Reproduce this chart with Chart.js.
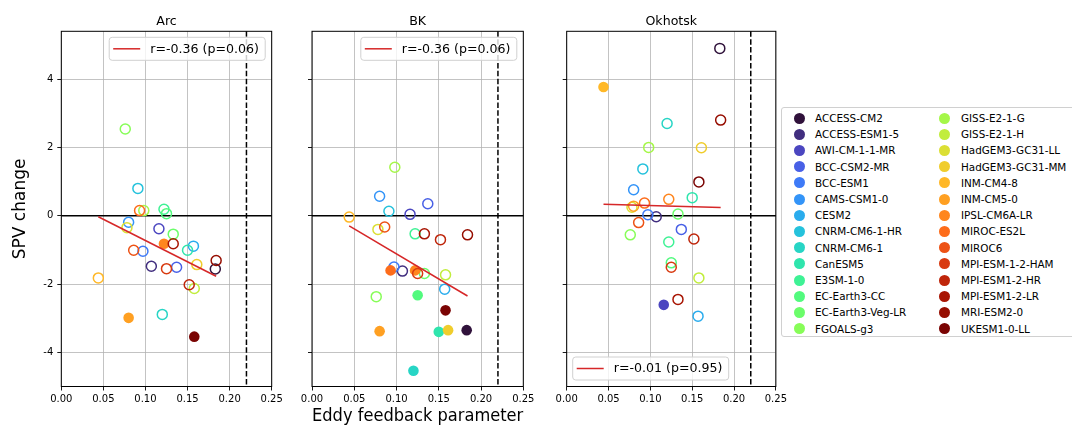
<!DOCTYPE html>
<html>
<head>
<meta charset="utf-8">
<script src="https://cdn.jsdelivr.net/npm/chart.js@4.4.0/dist/chart.umd.min.js"></script>
<style>
  body { margin: 0; background: #fff; width: 1072px; height: 427px; overflow: hidden; position: relative; font-family: "DejaVu Sans", sans-serif; }
  canvas { position: absolute; top: 0; }
  #legend { position: absolute; left: 781px; top: 107px; width: 300px; height: 228px; border: 1px solid #d0d0d0; border-radius: 3px; background: #fff; }
  .item { position: absolute; font-size: 10.4px; color: #000; white-space: nowrap; line-height: 12px; }
  .dot { position: absolute; width: 11px; height: 11px; border-radius: 50%; }
</style>
</head>
<body>
<canvas id="panel-arc" width="290" height="427" style="left:0px"></canvas>
<canvas id="panel-bk" width="250" height="427" style="left:290px"></canvas>
<canvas id="panel-okh" width="250" height="427" style="left:540px"></canvas>
<div id="legend"></div>
<script>
// CMIP6 models, in legend order
const MODELS = [
  'ACCESS-CM2', 'ACCESS-ESM1-5', 'AWI-CM-1-1-MR', 'BCC-CSM2-MR', 'BCC-ESM1', 'CAMS-CSM1-0', 'CESM2',
  'CNRM-CM6-1-HR', 'CNRM-CM6-1', 'CanESM5', 'E3SM-1-0', 'EC-Earth3-CC', 'EC-Earth3-Veg-LR', 'FGOALS-g3',
  'GISS-E2-1-G', 'GISS-E2-1-H', 'HadGEM3-GC31-LL', 'HadGEM3-GC31-MM', 'INM-CM4-8', 'INM-CM5-0', 'IPSL-CM6A-LR',
  'MIROC-ES2L', 'MIROC6', 'MPI-ESM-1-2-HAM', 'MPI-ESM1-2-HR', 'MPI-ESM1-2-LR', 'MRI-ESM2-0', 'UKESM1-0-LL'
];

// eddy feedback parameter per model (x)
const EDDY_FEEDBACK = [
  0.183, 0.107, 0.116, 0.137, 0.097, 0.080, 0.157,
  0.091, 0.120, 0.150, 0.122, 0.125, 0.133, 0.076,
  0.098, 0.158, 0.078, 0.161, 0.044, 0.080, 0.122,
  0.093, 0.086, 0.125, 0.152, 0.133, 0.184, 0.158
];

// SPV change per region (y)
const SPV_ARC = [
  -1.56, -1.48, -0.38, -1.51, -1.04, -0.19, -0.89,
  0.80, -2.89, -1.01, 0.19, 0.06, -0.54, 2.54,
  0.15, -2.13, -0.35, -1.43, -1.82, -2.99, -0.82,
  0.15, -1.01, -1.55, -2.02, -0.82, -1.31, -3.54
];
const SPV_BK = [
  -3.35, -1.62, 0.04, 0.35, -1.50, 0.57, -2.15,
  0.13, -4.54, -3.40, -0.53, -2.33, -1.69, -2.37,
  1.42, -1.73, -0.40, -3.35, -0.04, -3.38, -1.60,
  -1.60, -0.33, -1.69, -0.70, -0.53, -0.56, -2.77
];
const SPV_OKH = [
  4.90, -0.03, -2.61, -0.40, 0.03, 0.76, -2.94,
  1.37, 2.70, 0.53, -0.77, -1.38, 0.05, -0.56,
  2.00, -1.82, 0.25, 1.99, 3.77, 0.28, 0.48,
  0.37, -0.20, -1.51, -0.68, -2.45, 2.80, 0.99
];

// models drawn as filled circles in each panel (indices into MODELS)
const FILLED_ARC = [19, 20, 27];
const FILLED_BK = [0, 8, 9, 11, 17, 19, 20, 21, 27];
const FILLED_OKH = [2, 18];

const REGIONS = ['Arc', 'BK', 'Okhotsk'];
const CORR_LABELS = ['r=-0.36 (p=0.06)', 'r=-0.36 (p=0.06)', 'r=-0.01 (p=0.95)'];

const X_TICKS = [0, 0.05, 0.10, 0.15, 0.20, 0.25];
const Y_TICKS = [-4, -2, 0, 2, 4];
const X_MIN = 0, X_MAX = 0.25;
const Y_MIN = -5, Y_MAX = 5.4;
const EFP_THRESHOLD = 0.22;
const ZERO_LEVEL = 0;

// turbo colormap: polynomial fit, with the true end colours blended in
function turboPoly(t) {
  const r = 0.13572138 + t * (4.61539260 + t * (-42.66032258 + t * (132.13108234 + t * (-152.94239396 + t * 59.28637943))));
  const g = 0.09140261 + t * (2.19418839 + t * (4.84296658 + t * (-14.18503333 + t * (4.27729857 + t * 2.82956604))));
  const b = 0.10667330 + t * (12.64194608 + t * (-60.58204836 + t * (110.36276771 + t * (-89.90310912 + t * 27.34824973))));
  return [r, g, b];
}
function turbo(t) {
  let rgb = turboPoly(t);
  const lo = [0.18995, 0.07176, 0.23217], hi = [0.47960, 0.01583, 0.01055];
  if (t < 0.037) {
    const p = turboPoly(0.037), f = t / 0.037;
    rgb = lo.map((v, k) => v + (p[k] - v) * f);
  } else if (t > 0.963) {
    const p = turboPoly(0.963), f = (t - 0.963) / 0.037;
    rgb = p.map((v, k) => v + (hi[k] - v) * f);
  }
  const c = v => Math.round(Math.max(0, Math.min(1, v)) * 255);
  return `rgb(${c(rgb[0])},${c(rgb[1])},${c(rgb[2])})`;
}
const colors = MODELS.map((_, i) => turbo(i / (MODELS.length - 1)));

function linfit(xs, ys) {
  const n = xs.length;
  const mx = xs.reduce((a, b) => a + b, 0) / n;
  const my = ys.reduce((a, b) => a + b, 0) / n;
  let sxy = 0, sxx = 0;
  xs.forEach((x, i) => { sxy += (x - mx) * (ys[i] - my); sxx += (x - mx) * (x - mx); });
  const slope = sxy / sxx;
  return { slope, intercept: my - slope * mx };
}

const FONT = '"DejaVu Sans", sans-serif';
Chart.defaults.font.family = FONT;
Chart.defaults.color = '#000';

const panelDecor = {
  id: 'panelDecor',
  beforeDatasetsDraw(chart, args, opts) {
    const { ctx, chartArea: a, scales: { x, y } } = chart;
    ctx.save();
    ctx.strokeStyle = '#000';
    ctx.lineWidth = 1.5;
    const y0 = y.getPixelForValue(ZERO_LEVEL);
    ctx.beginPath(); ctx.moveTo(a.left, y0); ctx.lineTo(a.right, y0); ctx.stroke();
    const xd = x.getPixelForValue(EFP_THRESHOLD);
    ctx.setLineDash([5.5, 2.4]);
    ctx.beginPath(); ctx.moveTo(xd, a.top); ctx.lineTo(xd, a.bottom); ctx.stroke();
    ctx.restore();
  },
  afterDraw(chart, args, opts) {
    const { ctx, chartArea: a } = chart;
    ctx.save();
    // frame
    ctx.strokeStyle = '#000';
    ctx.lineWidth = 1;
    ctx.strokeRect(a.left, a.top, a.right - a.left, a.bottom - a.top);
    // title
    ctx.fillStyle = '#000';
    ctx.font = '12.6px ' + FONT;
    ctx.textAlign = 'center';
    ctx.textBaseline = 'alphabetic';
    ctx.fillText(opts.title, (a.left + a.right) / 2, a.top - 6);
    // correlation legend
    const w = 156, h = 23;
    const bx = opts.corner === 'top-right' ? a.right - 6.5 - w : a.left + 6;
    const by = opts.corner === 'top-right' ? a.top + 6 : a.bottom - 6.5 - h;
    ctx.beginPath();
    ctx.roundRect(bx, by, w, h, 3);
    ctx.fillStyle = 'rgba(255,255,255,0.8)';
    ctx.fill();
    ctx.strokeStyle = '#d0d0d0';
    ctx.lineWidth = 1;
    ctx.stroke();
    ctx.strokeStyle = '#d62728';
    ctx.lineWidth = 1.5;
    ctx.beginPath(); ctx.moveTo(bx + 4, by + h / 2); ctx.lineTo(bx + 31, by + h / 2); ctx.stroke();
    ctx.fillStyle = '#000';
    ctx.textAlign = 'left';
    ctx.textBaseline = 'middle';
    ctx.fillText(opts.label, bx + 41, by + h / 2 + 0.5);
    ctx.restore();
  }
};

function renderPanel(canvasId, idx, spv, filled, yAxisWidth, padRight) {
  const fit = linfit(EDDY_FEEDBACK, spv);
  const xLo = Math.min(...EDDY_FEEDBACK), xHi = Math.max(...EDDY_FEEDBACK);
  const isFilled = MODELS.map((_, i) => filled.includes(i));

  new Chart(document.getElementById(canvasId), {
    type: 'scatter',
    data: {
      datasets: [
        {
          type: 'line',
          data: [{ x: xLo, y: fit.intercept + fit.slope * xLo }, { x: xHi, y: fit.intercept + fit.slope * xHi }],
          borderColor: '#d62728',
          borderWidth: 1.5,
          pointRadius: 0,
          fill: false,
        },
        {
          data: EDDY_FEEDBACK.map((x, i) => ({ x, y: spv[i] })),
          pointRadius: isFilled.map(f => f ? 5.3 : 5),
          pointBorderWidth: isFilled.map(f => f ? 0 : 1.5),
          pointBackgroundColor: colors.map((c, i) => isFilled[i] ? c : 'rgba(0,0,0,0)'),
          pointBorderColor: colors,
        },
      ],
    },
    options: {
      responsive: false,
      animation: false,
      events: [],
      layout: { padding: { left: 0, right: padRight, top: 31.3, bottom: 0 } },
      plugins: {
        legend: { display: false },
        tooltip: { enabled: false },
        panelDecor: { title: REGIONS[idx], label: CORR_LABELS[idx], corner: idx === 2 ? 'bottom-left' : 'top-right' },
      },
      scales: {
        x: {
          type: 'linear',
          min: X_MIN, max: X_MAX,
          afterBuildTicks: s => { s.ticks = X_TICKS.map(v => ({ value: v })); },
          afterFit: s => { s.height = 40.5; },
          grid: { color: 'rgba(176,176,176,0.85)', lineWidth: 0.9, tickColor: '#000', tickLength: 4, drawTicks: true },
          border: { display: false },
          ticks: { font: { size: 10 }, padding: 3, maxRotation: 0, callback: v => v.toFixed(2) },
          title: {
            display: idx === 1,
            text: 'Eddy feedback parameter',
            font: { size: 17 },
            padding: { top: 0, bottom: 0 },
          },
        },
        y: {
          type: 'linear',
          min: Y_MIN, max: Y_MAX,
          afterBuildTicks: s => { s.ticks = Y_TICKS.map(v => ({ value: v })); },
          afterFit: s => { s.width = yAxisWidth; },
          grid: { color: 'rgba(176,176,176,0.85)', lineWidth: 0.9, tickColor: '#000', tickLength: 4, drawTicks: true },
          border: { display: false },
          ticks: { display: idx === 0, font: { size: 10 }, padding: 4 },
          title: {
            display: idx === 0,
            text: 'SPV change',
            font: { size: 17 },
            padding: { top: 10, bottom: 0 },
          },
        },
      },
    },
    plugins: [panelDecor],
  });
}

renderPanel('panel-arc', 0, SPV_ARC, FILLED_ARC, 61.3, 18.3);
renderPanel('panel-bk', 1, SPV_BK, FILLED_BK, 22, 16.7);
renderPanel('panel-okh', 2, SPV_OKH, FILLED_OKH, 26.7, 13.3);

// model legend, two columns of 14
const legend = document.getElementById('legend');
MODELS.forEach((name, i) => {
  const col = Math.floor(i / 14), row = i % 14;
  const cy = 10 + row * 16.2;
  const dot = document.createElement('span');
  dot.className = 'dot';
  dot.style.background = colors[i];
  dot.style.left = (11.5 + col * 145) + 'px';
  dot.style.top = (cy - 5.5) + 'px';
  legend.appendChild(dot);
  const lab = document.createElement('span');
  lab.className = 'item';
  lab.textContent = name;
  lab.style.left = (33 + col * 146) + 'px';
  lab.style.top = (cy - 6) + 'px';
  legend.appendChild(lab);
});
</script>
</body>
</html>
